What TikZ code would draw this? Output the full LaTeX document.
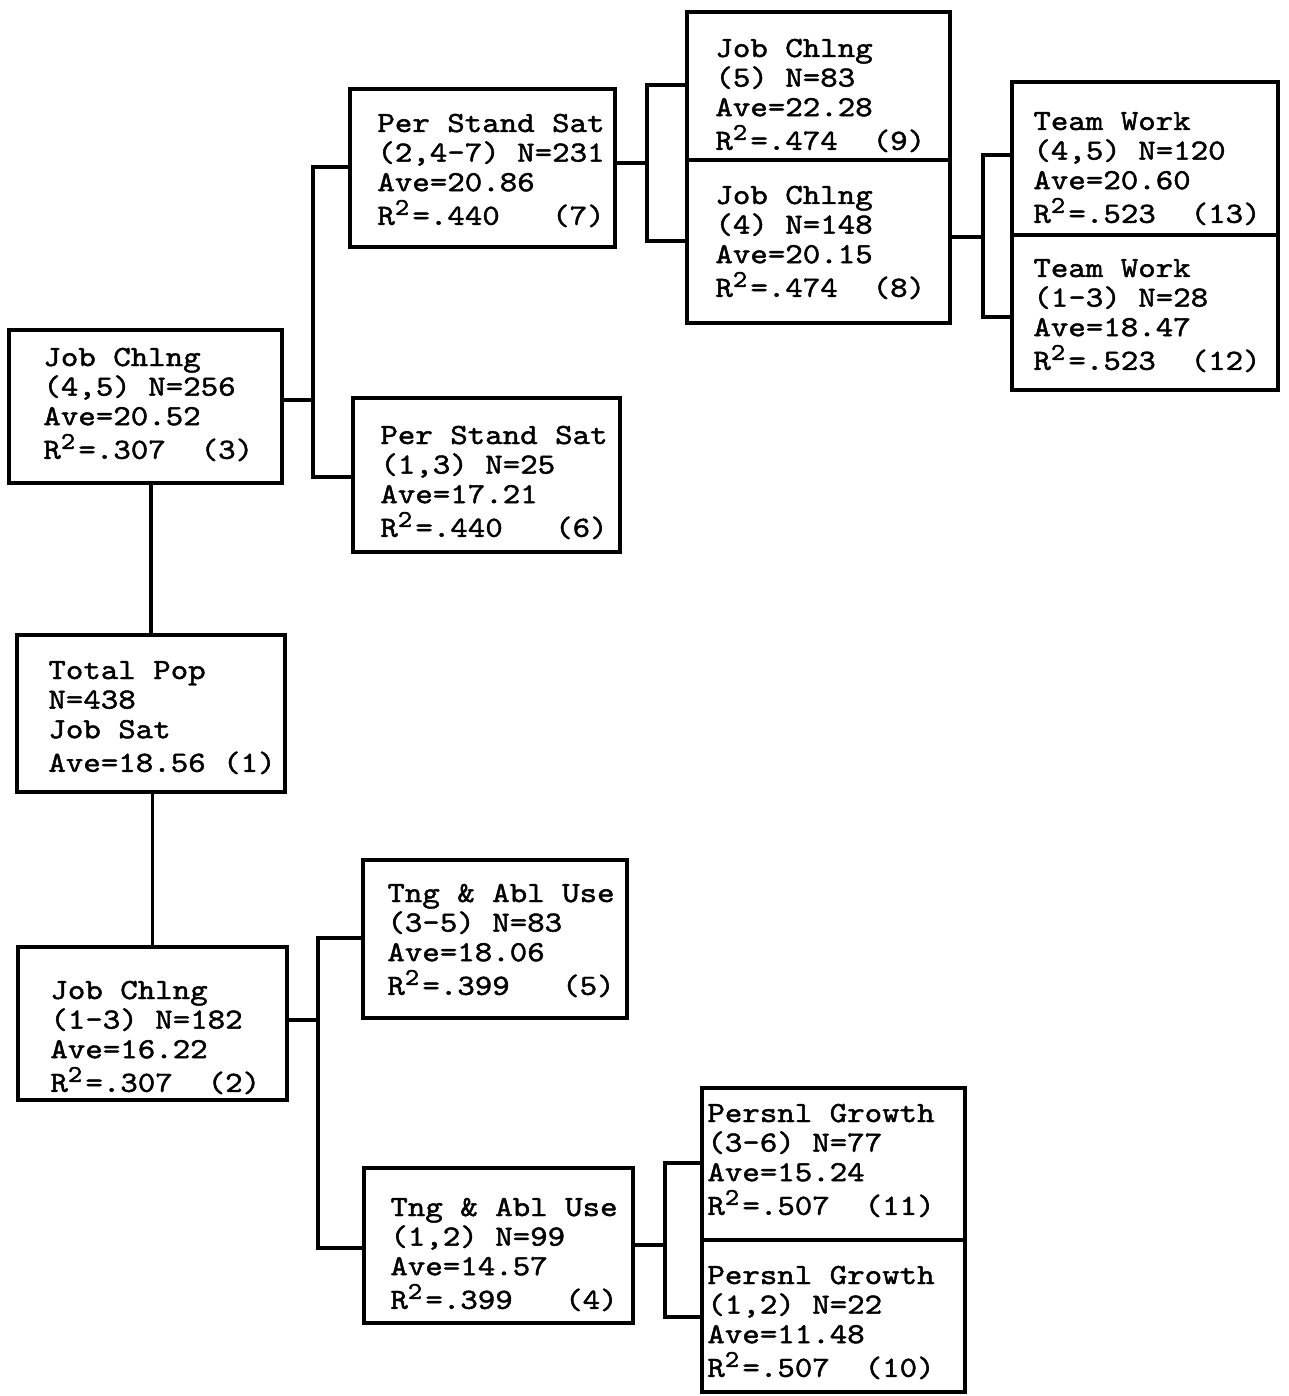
\documentclass[tikz,border=0pt]{standalone}
\usepackage{fontspec}
\newfontfamily\tw{lmmono10-regular.otf}[FakeStretch=1.14,FakeBold=1.5]
\newcommand\sqd{\makebox[0.6em][l]{\smash{\raisebox{0.34em}{\fontsize{12pt}{12pt}\selectfont 2}}}}
\newcommand\bl[4]{\begin{tabular}[t]{@{}l@{}}#1\\#2\\#3\\[2pt]#4\end{tabular}}
\begin{document}
\begin{tikzpicture}[x=0.5pt,y=-0.5pt,
  bx/.style={draw, line width=1.7pt, inner sep=0pt, outer sep=0pt, anchor=north west},
  tx/.style={anchor=base west, inner sep=0pt, font=\tw\fontsize{14.6pt}{14.8pt}\selectfont},
  ln/.style={line width=1.6pt}]
\fill[white] (0,0) rectangle (1289,1396);
\useasboundingbox (0,0) rectangle (1289,1396);

% boxes
\node[bx, minimum width=273*0.5pt, minimum height=153*0.5pt] (b3) at (9,330) {};
\node[bx, minimum width=268*0.5pt, minimum height=157*0.5pt] (b1) at (17,635) {};
\node[bx, minimum width=269*0.5pt, minimum height=153*0.5pt] (b2) at (18,947) {};
\node[bx, minimum width=265*0.5pt, minimum height=158*0.5pt] (b7) at (350,89) {};
\node[bx, minimum width=267*0.5pt, minimum height=154*0.5pt] (b6) at (353,398) {};
\node[bx, minimum width=263*0.5pt, minimum height=148*0.5pt] (b9) at (687,12) {};
\node[bx, minimum width=263*0.5pt, minimum height=163*0.5pt] (b8) at (687,160) {};
\node[bx, minimum width=266*0.5pt, minimum height=153*0.5pt] (b13) at (1012,82) {};
\node[bx, minimum width=266*0.5pt, minimum height=155*0.5pt] (b12) at (1012,235) {};
\node[bx, minimum width=264*0.5pt, minimum height=158*0.5pt] (b5) at (363,860) {};
\node[bx, minimum width=269*0.5pt, minimum height=155*0.5pt] (b4) at (364,1168) {};
\node[bx, minimum width=263*0.5pt, minimum height=152*0.5pt] (b11) at (702,1088) {};
\node[bx, minimum width=263*0.5pt, minimum height=152*0.5pt] (b10) at (702,1240) {};

% texts
\node[tx] (t3) at (43,366) {\bl{Job Chlng}{(4,5) N=256}{Ave=20.52}{R\sqd=.307~~(3)}};
\node[tx] (t1) at (48,679) {\bl{Total Pop}{N=438}{Job Sat}{Ave=18.56 (1)}};
\node[tx] (t2) at (50,999) {\bl{Job Chlng}{(1-3) N=182}{Ave=16.22}{R\sqd=.307~~(2)}};
\node[tx] (t7) at (377,132) {\bl{Per Stand Sat}{(2,4-7) N=231}{Ave=20.86}{R\sqd=.440~~~(7)}};
\node[tx] (t6) at (380,444) {\bl{Per Stand Sat}{(1,3) N=25}{Ave=17.21}{R\sqd=.440~~~(6)}};
\node[tx] (t9) at (715,57) {\bl{Job Chlng}{(5) N=83}{Ave=22.28}{R\sqd=.474~~(9)}};
\node[tx] (t8) at (715,204) {\bl{Job Chlng}{(4) N=148}{Ave=20.15}{R\sqd=.474~~(8)}};
\node[tx] (t13) at (1033,130) {\bl{Team Work}{(4,5) N=120}{Ave=20.60}{R\sqd=.523~~(13)}};
\node[tx] (t12) at (1033,277) {\bl{Team Work}{(1-3) N=28}{Ave=18.47}{R\sqd=.523~~(12)}};
\node[tx] (t5) at (387,902) {\bl{Tng \& Abl Use}{(3-5) N=83}{Ave=18.06}{R\sqd=.399~~~(5)}};
\node[tx] (t4) at (390,1216) {\bl{Tng \& Abl Use}{(1,2) N=99}{Ave=14.57}{R\sqd=.399~~~(4)}};
\node[tx] (t11) at (707,1122) {\bl{Persnl Growth}{(3-6) N=77}{Ave=15.24}{R\sqd=.507~~(11)}};
\node[tx] (t10) at (707,1284) {\bl{Persnl Growth}{(1,2) N=22}{Ave=11.48}{R\sqd=.507~~(10)}};

% vertical trunk
\draw[ln] (b1.north) -- (b1.north |- b3.south);
\draw[ln] (b2.north) -- (b2.north |- b1.south);

% split 1
\coordinate (s1) at (313,400); \coordinate (s1t) at (313,167); \coordinate (s1b) at (313,477);
\draw[ln] (s1 -| b3.east) -- (s1);
\draw[ln] (s1t -| b7.west) -- (s1t) -- (s1b) -- (s1b -| b6.west);
% split 2
\coordinate (s2) at (647,163); \coordinate (s2t) at (647,85); \coordinate (s2b) at (647,241);
\draw[ln] (s2 -| b7.east) -- (s2);
\draw[ln] (s2t -| b9.west) -- (s2t) -- (s2b) -- (s2b -| b8.west);
% split 3
\coordinate (s3) at (983,237); \coordinate (s3t) at (983,155); \coordinate (s3b) at (983,317);
\draw[ln] (s3 -| b8.east) -- (s3);
\draw[ln] (s3t -| b13.west) -- (s3t) -- (s3b) -- (s3b -| b12.west);
% split 4
\coordinate (s4) at (318,1020); \coordinate (s4t) at (318,938); \coordinate (s4b) at (318,1248);
\draw[ln] (s4 -| b2.east) -- (s4);
\draw[ln] (s4t -| b5.west) -- (s4t) -- (s4b) -- (s4b -| b4.west);
% split 5
\coordinate (s5) at (665,1245); \coordinate (s5t) at (665,1163); \coordinate (s5b) at (665,1317);
\draw[ln] (s5 -| b4.east) -- (s5);
\draw[ln] (s5t -| b11.west) -- (s5t) -- (s5b) -- (s5b -| b10.west);
\end{tikzpicture}
\end{document}
